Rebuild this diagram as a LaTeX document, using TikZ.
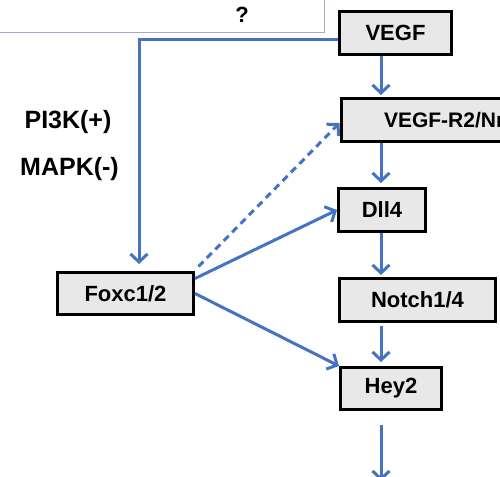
\documentclass[tikz,border=0pt]{standalone}
\usepackage{fontspec}
\setmainfont{Liberation Sans}
\usetikzlibrary{arrows.meta}
\definecolor{boxgray}{HTML}{E8E8E8}
\definecolor{arrblue}{HTML}{4472C4}
\definecolor{purp}{HTML}{B3A2C7}
\begin{document}
\begin{tikzpicture}[x=1pt,y=-1pt,
  box/.style={draw=black, line width=3pt, fill=boxgray, inner sep=0pt, font=\fontsize{22}{26}\selectfont\bfseries},
  lbl/.style={inner sep=0pt, font=\fontsize{25}{29}\selectfont\bfseries},
  arr/.style={draw=arrblue, line width=3pt, -{Straight Barb[length=8pt,width=17pt]}},
]
\useasboundingbox (0,0) rectangle (500,476);
\clip (0,0) rectangle (500,476);
% top purple box
\draw[draw=purp, line width=1pt, fill=white] (-10,-10) rectangle (324,33);
\node[lbl, font=\fontsize{22}{26}\selectfont\bfseries] (q) at (242,15) {?};
% side labels
\node[lbl] (pi3k) at (68,122.5) {PI3K(+)};
\node[lbl] (mapk) at (69.5,169.5) {MAPK(-)};
% boxes
\node[box, minimum width=112pt, minimum height=43pt] (VEGF) at (395.5,33) {VEGF};
\node[box, font=\fontsize{21}{25}\selectfont\bfseries, anchor=west, text width=131pt, inner xsep=43pt, minimum height=43pt, align=left] (VEGFR) at (339.5,120) {VEGF-R2/Nr};
\node[box, minimum width=87pt, minimum height=43pt] (Dll4) at (382,210) {Dll4};
\node[box, minimum width=156pt, minimum height=43pt] (Notch) at (417.5,300) {Notch1/4};
\node[box, minimum width=101pt, minimum height=42pt] (Hey2) at (391,388.5) {Hey2};
\node[box, minimum width=136pt, minimum height=42pt] (Foxc) at (125.5,293.5) {Foxc1/2};
\coordinate (col) at (381,0);
\coordinate (outc) at (381,481);
% connectors
\draw[arr, shorten >=7pt] ([yshift=-7pt]VEGF.west) -| ([xshift=13.5pt]Foxc.north);
\draw[arr, shorten >=2pt] (VEGF.south -| col) -- (VEGFR.north -| col);
\draw[arr, shorten >=4pt] (VEGFR.south -| col) -- (Dll4.north -| col);
\draw[arr, shorten >=2pt] (Dll4.south -| col) -- (Notch.north -| col);
\draw[arr, shorten >=4pt, shorten <=3pt] (Notch.south -| col) -- (Hey2.north -| col);
\draw[arr] ([yshift=-14pt]Hey2.south -| col) -- (outc);
\draw[arr, dash pattern=on 7pt off 5pt] ([shift={(3.5pt,4.5pt)}]Foxc.north east) -- ([yshift=-3pt]VEGFR.west);
\draw[arr] ([yshift=15pt]Foxc.east) -- (Dll4.west);
\draw[arr] (Foxc.east) -- (Hey2.north west);
\end{tikzpicture}
\end{document}
